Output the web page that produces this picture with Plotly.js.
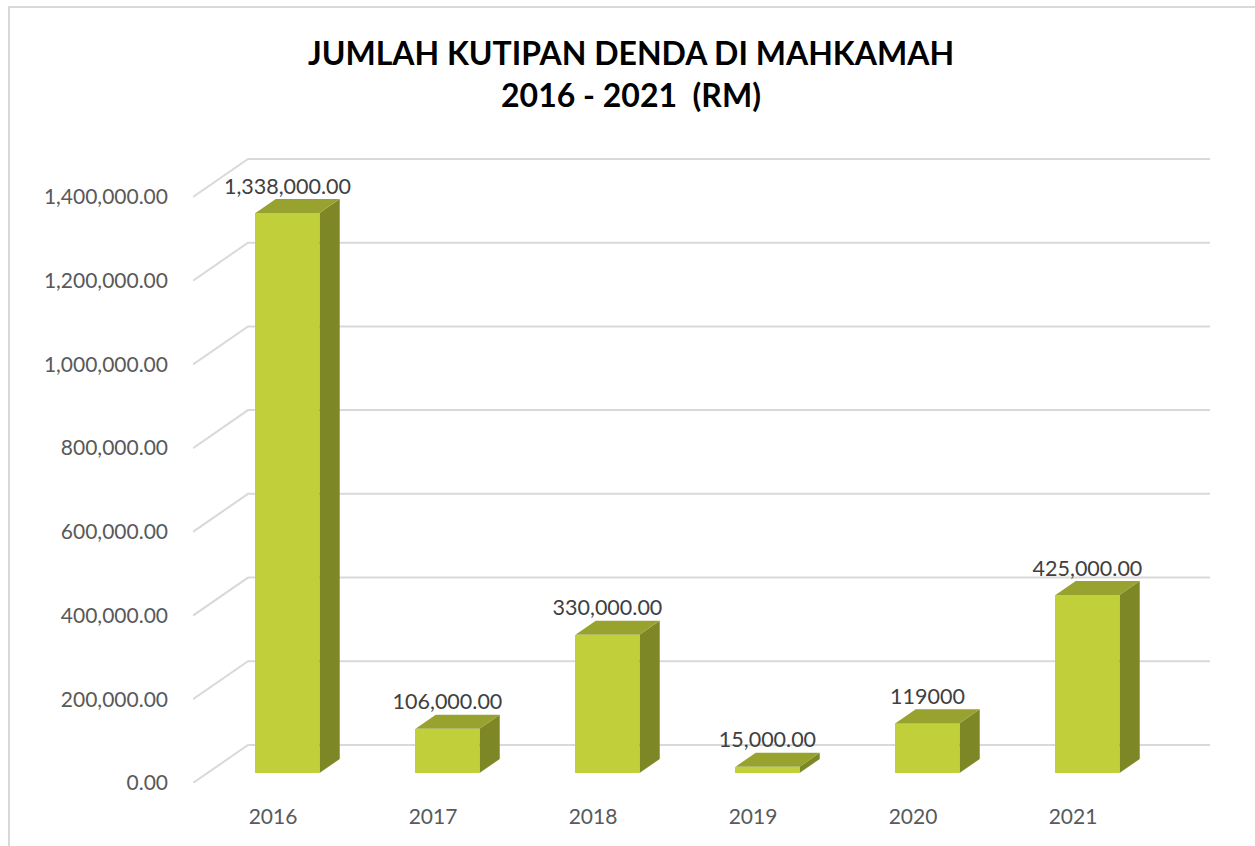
<!DOCTYPE html>
<html>
<head>
<meta charset="utf-8">
<script src="https://cdn.plot.ly/plotly-3.0.1.min.js"></script>
<style>
  html, body { margin: 0; padding: 0; background: #ffffff; overflow: hidden; }
  #chart { position: absolute; left: 0; top: 0; width: 1255px; height: 846px; }
  #frame { position: absolute; left: 8px; top: 6px; width: 1400px; height: 1000px;
           border-left: 2px solid #d9d9d9; border-top: 2px solid #d9d9d9; pointer-events: none; z-index: 5; }
</style>
</head>
<body>
<div id="chart"></div>
<div id="frame"></div>
<script>
// ---- data ----
const years = ['2016', '2017', '2018', '2019', '2020', '2021'];
const values = [1338000, 106000, 330000, 15000, 119000, 425000];
const valueLabels = ['1,338,000.00', '106,000.00', '330,000.00', '15,000.00', '119000', '425,000.00'];
const yTickValues = [0, 200000, 400000, 600000, 800000, 1000000, 1200000, 1400000];

// ---- pseudo-3D geometry (pixels -> axis units) ----
const W = 1255, H = 846;
const M = { l: 193, r: 45, t: 120, b: 63 };
const pxPerX = 160;            // pixels per category
const pxPerY = 0.0004186;      // pixels per value unit
const xMin = -0.5;
const xMax = xMin + (W - M.l - M.r) / pxPerX;
const yMax = (H - M.t - M.b) / pxPerY;
const slope = 55 / 38;         // horizontal px per depth px
function dx(d) { return d * slope / pxPerX; }
function dy(d) { return d / pxPerY; }
const dxF = dx(10), dyF = dy(10);   // bar front face depth
const dxK = dx(24), dyK = dy(24);   // bar back face depth
const dxW = dx(38), dyW = dy(38);   // back wall depth
const halfW = 0.2;

// gridlines (left wall diagonal + back wall horizontal)
const shapes = yTickValues.map(v => ({
  type: 'path', xref: 'x', yref: 'y', layer: 'below',
  path: `M ${xMin},${v} L ${xMin + dxW},${v + dyW} L ${xMax},${v + dyW}`,
  line: { color: '#d9d9d9', width: 2 }
}));

// side and top faces
const sideX = [], sideY = [], topX = [], topY = [];
const ddx = dxK - dxF, ddy = dyK - dyF;
values.forEach((v, i) => {
  const xl = i + dxF - halfW, xr = i + dxF + halfW, b = dyF;
  sideX.push(xr, xr + ddx, xr + ddx, xr, xr, null);
  sideY.push(b, b + ddy, b + ddy + v, b + v, b, null);
  topX.push(xl, xr, xr + ddx, xl + ddx, xl, null);
  topY.push(b + v, b + v, b + v + ddy, b + v + ddy, b + v, null);
});

const catIdx = years.map((_, i) => i);

const traces = [
  {
    type: 'bar', x: catIdx.map(i => i + dxF), y: values, base: dyF, width: 2 * halfW,
    marker: { color: '#c0cf3a', line: { width: 0 } }, showlegend: false, hoverinfo: 'skip'
  },
  {
    type: 'scatter', mode: 'lines', x: sideX, y: sideY, fill: 'toself',
    fillcolor: '#7e8726', line: { width: 0, color: '#7e8726' }, showlegend: false, hoverinfo: 'skip'
  },
  {
    type: 'scatter', mode: 'lines', x: topX, y: topY, fill: 'toself',
    fillcolor: '#97a32e', line: { width: 0, color: '#97a32e' }, showlegend: false, hoverinfo: 'skip'
  },
  {
    type: 'scatter', mode: 'text', x: catIdx.map(i => i + dxF), y: values.map(v => v + dyK),
    text: valueLabels, textposition: 'top center', cliponaxis: false,
    textfont: { family: 'Lato, sans-serif', size: 21.5, color: '#404040' },
    showlegend: false, hoverinfo: 'skip'
  }
];

const layout = {
  width: W, height: H,
  margin: M,
  paper_bgcolor: '#ffffff', plot_bgcolor: 'rgba(0,0,0,0)',
  hovermode: false,
  showlegend: false,
  bargap: 0,
  title: {
    text: 'JUMLAH KUTIPAN DENDA DI MAHKAMAH<br>2016 - 2021  (RM)',
    font: { family: 'Lato, sans-serif', size: 32, color: '#000000', weight: 'bold' },
    xref: 'container', x: 631 / W, xanchor: 'center',
    yref: 'container', y: 1 - 65 / H, yanchor: 'top'
  },
  xaxis: {
    range: [xMin, xMax], tickmode: 'array', tickvals: catIdx, ticktext: years,
    showgrid: false, zeroline: false, showline: false, ticks: '',
    ticklabelstandoff: 19,
    tickfont: { family: 'Lato, sans-serif', size: 21, color: '#595959' }, fixedrange: true
  },
  yaxis: {
    range: [0, yMax], tickmode: 'array', tickvals: yTickValues, tickformat: ',.2f',
    showgrid: false, zeroline: false, showline: false, ticks: '',
    ticklabelstandoff: 24,
    tickfont: { family: 'Lato, sans-serif', size: 21, color: '#595959' }, fixedrange: true
  },
  shapes: shapes
};

Plotly.newPlot('chart', traces, layout, { displayModeBar: false, staticPlot: true });
</script>
</body>
</html>
